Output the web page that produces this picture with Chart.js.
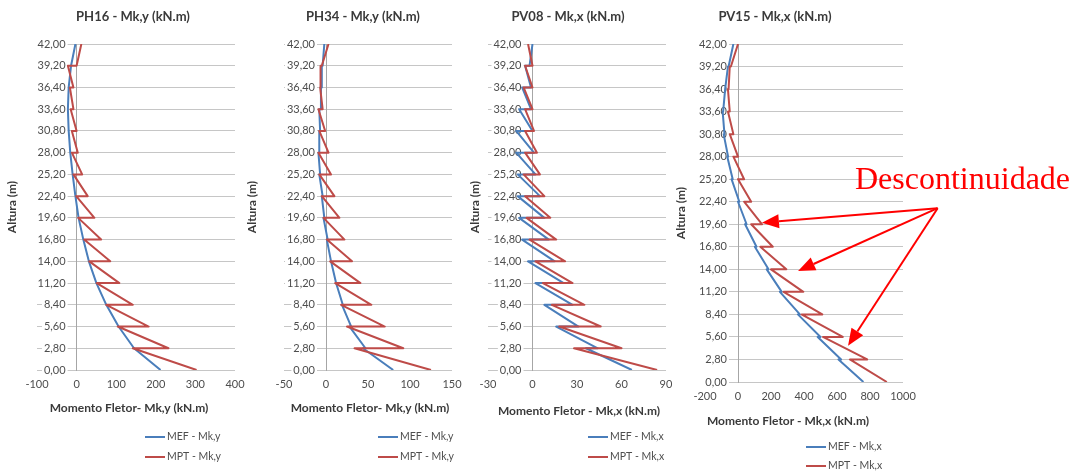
<!DOCTYPE html>
<html><head><meta charset="utf-8">
<script src="https://cdn.jsdelivr.net/npm/chart.js@4.4.1/dist/chart.umd.min.js"></script>
<style>
html,body{margin:0;padding:0;background:#fff;}
#wrap{position:relative;width:1082px;height:472px;overflow:hidden;background:#fff;}
canvas{position:absolute;left:0;top:0;}
</style></head><body>
<div id="wrap">
<canvas id="c1" width="1082" height="472"></canvas>
<canvas id="c2" width="1082" height="472"></canvas>
<canvas id="c3" width="1082" height="472"></canvas>
<canvas id="c4" width="1082" height="472"></canvas>
</div>
<script>
// ---- data ----
const alturas = [0, 2.8, 5.6, 8.4, 11.2, 14, 16.8, 19.6, 22.4, 25.2, 28, 30.8, 33.6, 36.4, 39.2, 42];
const rotulosAltura = ['0,00','2,80','5,60','8,40','11,20','14,00','16,80','19,60','22,40','25,20','28,00','30,80','33,60','36,40','39,20','42,00'];

// PH16 - Mk,y
const ph16Titulo = 'PH16 - Mk,y (kN.m)';
const ph16Eixo = 'Momento Fletor- Mk,y (kN.m)';
const ph16Series = ['MEF - Mk,y', 'MPT - Mk,y'];
const ph16XTicks = [-100, 0, 100, 200, 300, 400];
const ph16MefInf = [212, 145, 106, 75, 50, 31, 17, 5, -3, -10, -16, -20, -22, -20, -14, -3];
const ph16MefSup = [212, 145, 106, 75, 50, 31, 17, 5, -3, -10, -16, -20, -22, -20, -14, -3];
const ph16MptInf = [303, 142, 104, 75, 51, 32, 19, 4, -1, -8, -12, -12, -15, -17, -22, 12];
const ph16MptSup = [303, 232, 182, 142, 108, 85, 62, 45, 28, 14, 3, 0, -8, -8, 0, 12];

// PH34 - Mk,y
const ph34Titulo = 'PH34 - Mk,y (kN.m)';
const ph34Eixo = 'Momento Fletor- Mk,y (kN.m)';
const ph34Series = ['MEF - Mk,y', 'MPT - Mk,y'];
const ph34XTicks = [-50, 0, 50, 100, 150];
const ph34MefInf = [80, 44, 28, 19, 12, 6, 1, -3, -5, -8, -9, -8, -8, -6, -5, -2];
const ph34MefSup = [80, 47, 30, 20, 13, 7, 2, -2, -4, -7, -8, -7, -7, -5, -4, -2];
const ph34MptInf = [125, 34, 25, 18, 11, 5, 1, -3, -5, -8, -9, -8, -9, -7, -7, 3];
const ph34MptSup = [125, 92, 70, 54, 41, 31, 22, 16, 10, 6, 3, -1, -4, -6, -5, 3];

// PV08 - Mk,x
const pv08Titulo = 'PV08 - Mk,x (kN.m)';
const pv08Eixo = 'Momento Fletor - Mk,x (kN.m)';
const pv08Series = ['MEF - Mk,x', 'MPT - Mk,x'];
const pv08XTicks = [-30, 0, 30, 60, 90];
const pv08MefInf = [67, 36, 16, 8, 2, -3, -7, -9, -10, -10, -11, -11, -9, -7, -5, 0];
const pv08MefSup = [67, 44, 31, 27, 21, 15, 11, 8, 5, 2, 1, 0, -1, -1, -2, 0];
const pv08MptInf = [84, 28, 18, 13, 7, 2, -2, -4, -5, -6, -5, -5, -5, -6, -5, -3];
const pv08MptSup = [84, 60, 46, 35, 27, 22, 16, 12, 8, 5, 3, 1, 0, 0, 0, -3];

// PV15 - Mk,x
const pv15Titulo = 'PV15 - Mk,x (kN.m)';
const pv15Eixo = 'Momento Fletor - Mk,x (kN.m)';
const pv15Series = ['MEF - Mk,x', 'MPT - Mk,x'];
const pv15XTicks = [-200, 0, 200, 400, 600, 800, 1000];
const pv15MefInf = [760, 609, 483, 363, 254, 174, 102, 43, 0, -39, -65, -87, -93, -78, -61, -28];
const pv15MefSup = [760, 625, 500, 375, 265, 185, 112, 52, 8, -32, -60, -82, -90, -74, -57, -28];
const pv15MptInf = [902, 678, 515, 385, 276, 200, 135, 80, 37, 0, -28, -50, -61, -61, -50, 0];
const pv15MptSup = [902, 783, 635, 511, 396, 293, 211, 146, 80, 37, 0, -28, -50, -57, -43, 0];

// annotation (PV15)
const anotacaoTexto = 'Descontinuidade';
const setaOrigem = {x: 1210, y: 21.6};
const setaAlvos = [{x: 145, y: 19.8}, {x: 364, y: 13.8}, {x: 667, y: 4.5}];

// ---- styling / layout ----
const BLUE = '#4a7ebb', RED = '#be4b48', GRID = '#c6c6c6', AXIS = '#a6a6a6', TXT = '#4d4d4d';
const FONT = 'Lato, "Open Sans", sans-serif';
const AXH = 20;

function pontos(inf, sup) {
  const p = [];
  alturas.forEach((h, i) => {
    p.push({x: inf[i], y: h});
    if (sup[i] !== inf[i]) p.push({x: sup[i], y: h});
  });
  return p;
}

// y tick labels sit a little to the left of the axis line that crosses at x = 0
const deslocaRotulos = {
  id: 'deslocaRotulos',
  beforeDraw(chart) {
    const items = chart.scales.y.getLabelItems(chart.chartArea);
    if (items._desloc) return;
    items.forEach(it => { it.options.translation[0] -= 11; });
    items._desloc = true;
  }
};

const textos = {
  id: 'textos',
  afterDraw(chart, args, o) {
    const ctx = chart.ctx, L = o.L;
    ctx.save();
    ctx.fillStyle = '#3a3a3a';
    ctx.textAlign = 'center'; ctx.textBaseline = 'middle';
    ctx.font = 'bold 13px ' + FONT;
    ctx.fillText(o.titulo, L.tx, L.ty);
    ctx.font = 'bold 12px ' + FONT;
    ctx.fillText(o.eixo, L.ex, L.ey);
    ctx.save();
    ctx.translate(L.ax, (chart.chartArea.top + chart.chartArea.bottom) / 2);
    ctx.rotate(-Math.PI / 2);
    ctx.fillText('Altura (m)', 0, 0);
    ctx.restore();
    // legend
    ctx.font = '10.5px ' + FONT;
    ctx.textAlign = 'left';
    chart.data.datasets.forEach((ds, i) => {
      const y = L.ly + i * L.lg;
      ctx.strokeStyle = ds.borderColor; ctx.lineWidth = 2;
      ctx.beginPath(); ctx.moveTo(L.lx, y); ctx.lineTo(L.lx + 20, y); ctx.stroke();
      ctx.fillStyle = TXT;
      ctx.fillText(ds.label, L.lx + 22, y);
    });
    ctx.restore();
  }
};

const anotacao = {
  id: 'anotacao',
  afterDraw(chart) {
    const ctx = chart.ctx, sx = chart.scales.x, sy = chart.scales.y;
    ctx.save();
    ctx.fillStyle = '#ff0000';
    ctx.font = '32px "Liberation Serif", "DejaVu Serif", serif';
    ctx.textAlign = 'left'; ctx.textBaseline = 'alphabetic';
    ctx.fillText(anotacaoTexto, 855, 189);
    const ox = sx.getPixelForValue(setaOrigem.x), oy = sy.getPixelForValue(setaOrigem.y);
    ctx.strokeStyle = '#ff0000'; ctx.lineWidth = 2;
    setaAlvos.forEach(a => {
      const tx = sx.getPixelForValue(a.x), ty = sy.getPixelForValue(a.y);
      const ang = Math.atan2(ty - oy, tx - ox);
      const hl = 17, hw = 7;
      const bx = tx - hl * Math.cos(ang), by = ty - hl * Math.sin(ang);
      ctx.beginPath(); ctx.moveTo(ox, oy); ctx.lineTo(bx, by); ctx.stroke();
      ctx.beginPath();
      ctx.moveTo(tx, ty);
      ctx.lineTo(bx + hw * Math.sin(ang), by - hw * Math.cos(ang));
      ctx.lineTo(bx - hw * Math.sin(ang), by + hw * Math.cos(ang));
      ctx.closePath(); ctx.fill();
    });
    ctx.restore();
  }
};

function painel(id, p) {
  const xt = p.xTicks;
  return new Chart(document.getElementById(id), {
    type: 'line',
    data: {datasets: [
      {label: p.series[0], data: pontos(p.mefInf, p.mefSup), borderColor: BLUE, backgroundColor: BLUE,
       borderWidth: 2, pointRadius: 0, tension: 0, borderJoinStyle: 'round', fill: false, order: 1},
      {label: p.series[1], data: pontos(p.mptInf, p.mptSup), borderColor: RED, backgroundColor: RED,
       borderWidth: 2, pointRadius: 0, tension: 0, borderJoinStyle: 'round', fill: false, order: 0}
    ]},
    options: {
      responsive: false, animation: false, events: [],
      layout: {padding: {left: p.L.left, right: 1082 - p.L.right, top: 44, bottom: 472 - p.L.bottom - AXH}},
      plugins: {legend: {display: false}, tooltip: {enabled: false}, title: {display: false},
        textos: {titulo: p.titulo, eixo: p.eixo, L: p.L}},
      scales: {
        x: {type: 'linear', position: 'bottom', min: xt[0], max: xt[xt.length - 1],
          afterFit: s => { s.height = AXH; },
          afterBuildTicks: s => { s.ticks = xt.map(v => ({value: v})); },
          grid: {display: false, drawTicks: false}, border: {display: false},
          ticks: {padding: 8, color: TXT, font: {family: FONT, size: 11}, maxRotation: 0,
            callback: v => String(v)}},
        y: {type: 'linear', position: {x: 0}, min: 0, max: 42,
          afterBuildTicks: s => { s.ticks = alturas.map(v => ({value: v})); },
          grid: {color: GRID, lineWidth: 1, drawTicks: false},
          border: {display: true, color: AXIS, width: 1},
          ticks: {padding: 10, color: TXT, font: {family: FONT, size: 11},
            showLabelBackdrop: true, backdropColor: '#ffffff', backdropPadding: {top: 0, bottom: 0, left: 2, right: 2},
            callback: (v) => rotulosAltura[alturas.indexOf(v)] ?? ''}}
      }
    },
    plugins: p.extra ? [deslocaRotulos, textos, p.extra] : [deslocaRotulos, textos]
  });
}

painel('c1', {titulo: ph16Titulo, eixo: ph16Eixo, series: ph16Series, xTicks: ph16XTicks,
  mefInf: ph16MefInf, mefSup: ph16MefSup, mptInf: ph16MptInf, mptSup: ph16MptSup,
  L: {left: 37, right: 235, bottom: 370, tx: 133, ty: 17, ex: 129, ey: 408, ax: 12, lx: 145, ly: 437, lg: 20}});
painel('c2', {titulo: ph34Titulo, eixo: ph34Eixo, series: ph34Series, xTicks: ph34XTicks,
  mefInf: ph34MefInf, mefSup: ph34MefSup, mptInf: ph34MptInf, mptSup: ph34MptSup,
  L: {left: 284, right: 452, bottom: 370, tx: 363, ty: 17, ex: 370, ey: 408, ax: 252, lx: 378, ly: 437, lg: 20}});
painel('c3', {titulo: pv08Titulo, eixo: pv08Eixo, series: pv08Series, xTicks: pv08XTicks,
  mefInf: pv08MefInf, mefSup: pv08MefSup, mptInf: pv08MptInf, mptSup: pv08MptSup,
  L: {left: 488, right: 666, bottom: 370, tx: 568, ty: 17, ex: 579, ey: 411, ax: 475, lx: 588, ly: 437, lg: 20}});
painel('c4', {titulo: pv15Titulo, eixo: pv15Eixo, series: pv15Series, xTicks: pv15XTicks,
  mefInf: pv15MefInf, mefSup: pv15MefSup, mptInf: pv15MptInf, mptSup: pv15MptSup,
  L: {left: 705, right: 903, bottom: 382, tx: 775, ty: 17, ex: 788, ey: 421, ax: 681, lx: 806, ly: 447, lg: 19},
  extra: anotacao});
</script>
</body></html>
